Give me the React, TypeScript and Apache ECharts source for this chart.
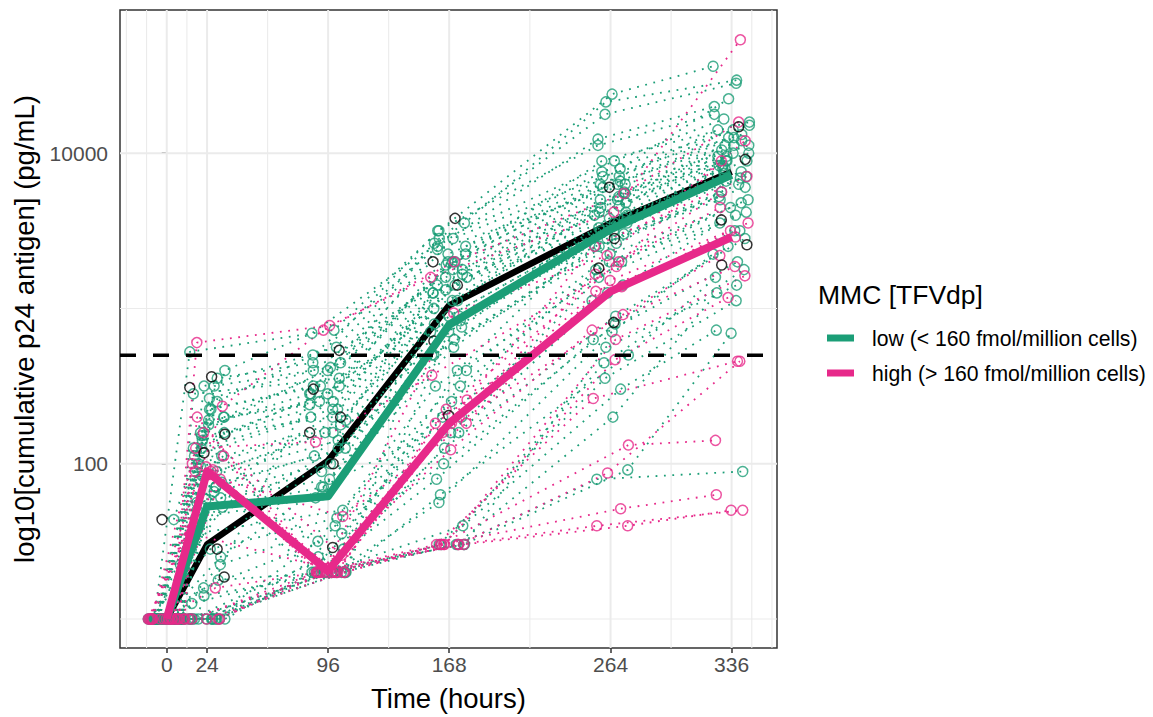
import React, { useEffect, useRef } from "react";
import * as echarts from "echarts";

// ---------- data (y values are log10 of cumulative p24 antigen, pg/mL) ----------
const TIMES = [0, 24, 96, 168, 264, 336];
const X_TICKS = [0, 24, 96, 168, 264, 336];
const X_MINOR = [-24, -12, 12, 60, 132, 216, 300, 348, 360];
const Y_TICKS = [2, 4]; // 100, 10000
const Y_MINOR = [1, 3];
const X_RANGE = [-27.8, 363];
const Y_RANGE = [0.813, 4.922];
const THRESHOLD = 500; // pg/mL dashed reference

const LOW_LABEL = "low (< 160 fmol/million cells)";
const HIGH_LABEL = "high (> 160 fmol/million cells)";

const LOW_SUMMARY = [1.0, 1.725, 1.79, 2.895, 3.51, 3.86];
const HIGH_SUMMARY = [1.0, 1.95, 1.31, 2.26, 3.11, 3.46];
const OVERALL_SUMMARY = [1.0, 1.48, 2.02, 3.02, 3.55, 3.88];

const LOW_SUBJECTS: number[][] = [
  [1.0, 2.72, 2.86, 3.5, 4.38, 4.56],
  [1.0, 2.6, 2.84, 3.55, 4.33, 4.47],
  [1.0, 2.5, 2.75, 3.45, 4.25, 4.45],
  [1.0, 2.4, 2.7, 3.4, 4.09, 4.3],
  [1.0, 2.3, 2.6, 3.35, 3.95, 4.2],
  [1.0, 2.45, 2.55, 3.3, 3.9, 4.35],
  [1.64, 2.35, 2.5, 3.45, 3.85, 4.12],
  [1.35, 2.2, 2.65, 3.38, 3.8, 4.05],
  [1.0, 2.25, 2.45, 3.3, 3.85, 4.15],
  [1.0, 2.15, 2.4, 3.25, 3.8, 4.1],
  [1.0, 2.1, 2.35, 3.2, 3.75, 4.05],
  [1.0, 2.05, 2.3, 3.15, 3.7, 4.0],
  [1.0, 2.0, 2.28, 3.1, 3.68, 3.98],
  [1.0, 1.95, 2.2, 3.05, 3.65, 3.95],
  [1.0, 1.9, 2.15, 3.0, 3.62, 3.92],
  [1.0, 1.88, 2.1, 2.95, 3.6, 3.9],
  [1.0, 1.85, 2.05, 2.92, 3.58, 3.88],
  [1.0, 1.82, 2.0, 2.9, 3.55, 3.87],
  [1.0, 1.78, 1.95, 2.88, 3.52, 3.85],
  [1.0, 1.75, 1.9, 2.85, 3.5, 3.84],
  [1.0, 1.72, 1.85, 2.8, 3.48, 3.8],
  [1.0, 1.7, 1.8, 2.75, 3.45, 3.78],
  [1.0, 1.65, 1.78, 2.7, 3.42, 3.75],
  [1.0, 2.3, 2.4, 3.2, 3.6, 3.95],
  [1.0, 1.77, 2.35, 3.28, 3.72, 4.02],
  [1.0, 2.35, 2.5, 2.95, 3.4, 3.7],
  [1.0, 1.55, 1.7, 2.6, 3.35, 3.7],
  [1.0, 1.45, 1.65, 2.5, 3.3, 3.65],
  [1.0, 1.35, 1.6, 2.4, 3.25, 3.6],
  [1.0, 1.2, 1.55, 2.3, 3.15, 3.55],
  [1.0, 1.0, 1.5, 2.2, 3.05, 3.5],
  [1.0, 1.0, 1.45, 2.1, 2.95, 3.45],
  [1.0, 1.0, 1.4, 2.0, 2.9, 3.4],
  [1.0, 1.1, 1.3, 1.9, 2.8, 3.3],
  [1.0, 1.0, 1.3, 1.8, 2.7, 3.2],
  [1.0, 1.25, 1.3, 2.2, 3.1, 3.5],
  [1.0, 1.0, 1.3, 1.48, 2.48, 2.86],
  [1.0, 1.0, 1.3, 1.48, 1.96, 2.84],
  [1.0, 1.0, 1.3, 1.48, 1.9, 1.95],
  [1.0, 1.0, 1.3, 1.48, 2.3, 3.1],
  [1.0, 1.0, 1.3, 1.6, 2.65, 3.25],
  [1.0, 1.0, 1.3, 1.75, 2.85, 3.35],
  [1.0, 1.0, 1.3, 1.48, 2.75, 3.15],
  [1.0, 1.15, 1.3, 1.48, 2.55, 3.05],
  [1.0, 2.55, 2.65, 3.5, 4.05, 4.25],
  [1.0, 2.2, 2.45, 3.4, 3.88, 4.18],
  [1.0, 2.1, 2.5, 3.35, 3.82, 4.1],
  [1.0, 2.42, 2.6, 3.25, 3.78, 4.08],
  [1.0, 1.98, 2.25, 3.15, 3.74, 4.0],
  [1.0, 2.28, 2.38, 3.05, 3.66, 3.98],
  [1.0, 1.92, 2.2, 3.22, 3.7, 4.05],
  [1.0, 2.18, 2.3, 3.12, 3.58, 3.9],
  [1.0, 1.0, 2.45, 3.3, 3.8, 4.15],
  [1.0, 1.0, 1.3, 3.1, 3.62, 3.95],
  [1.0, 1.0, 1.3, 2.6, 3.5, 3.82],
  [1.0, 1.6, 2.1, 2.7, 3.4, 3.72],
  [1.0, 2.05, 1.3, 2.85, 3.55, 3.92],
  [1.0, 1.85, 1.3, 2.5, 3.3, 3.68],
  [1.0, 2.5, 2.62, 3.42, 3.95, 4.22],
  [1.0, 1.4, 1.85, 2.3, 3.2, 3.62],
];

const HIGH_SUBJECTS: number[][] = [
  [1.0, 2.78, 2.89, 3.2, 3.62, 4.73],
  [1.0, 2.37, 2.86, 3.3, 3.74, 4.2],
  [1.0, 2.3, 1.3, 2.97, 3.34, 4.08],
  [1.0, 2.1, 2.14, 2.57, 3.27, 3.95],
  [1.0, 2.05, 1.3, 2.41, 3.4, 3.85],
  [1.0, 1.98, 1.3, 2.35, 3.3, 3.75],
  [1.0, 1.95, 1.3, 2.3, 3.22, 3.65],
  [1.0, 1.95, 1.66, 2.26, 3.18, 3.55],
  [1.0, 1.93, 1.3, 2.26, 3.14, 3.5],
  [1.0, 1.9, 1.3, 2.26, 3.11, 3.46],
  [1.0, 2.2, 1.41, 2.2, 2.96, 3.34],
  [1.0, 1.96, 1.3, 2.09, 2.86, 3.27],
  [1.0, 1.55, 1.3, 1.48, 2.8, 3.21],
  [1.0, 1.2, 1.3, 1.48, 2.67, 3.07],
  [1.0, 1.0, 1.3, 1.48, 2.42, 2.66],
  [1.0, 1.0, 1.3, 1.48, 2.12, 2.15],
  [1.0, 1.0, 1.3, 1.48, 1.94, 2.66],
  [1.0, 2.0, 1.3, 1.48, 1.71, 1.8],
  [1.0, 1.0, 1.3, 1.48, 1.6, 1.7],
  [1.0, 1.0, 1.3, 1.48, 1.6, 1.7],
];

// black open circles, grouped by time index
const OTHER_POINTS: number[][] = [
  [1.64],
  [2.56, 2.49, 2.19, 2.07, 1.45, 1.27],
  [2.73, 2.48, 2.3, 2.2, 2.0, 1.46],
  [3.58, 3.3, 3.15, 2.79, 2.31],
  [3.78, 3.45, 3.26, 2.91],
  [4.17, 3.96, 3.57, 3.41, 3.28],
];

// horizontal jitter (hours)
const JITTER = [
  -7.5, 4.2, 9.8, -2.1, 6.6, -10.3, 1.4, -5.2, 8.1, -0.7, 3.5, -8.8, 10.6, -3.9,
  5.7, -6.1, 2.3, -9.6, 7.4, -1.8, 0.9, -4.6, 9.1, -7.0, 4.9, -11.0, 6.0, -2.8,
  8.7, -5.9, 1.9, -9.1, 3.0, 10.2, -3.3, 5.2, -6.8, 7.9, -0.3, 2.7, -8.2,
];

const GREEN = "#1B9E77";
const PINK = "#E7298A";
const FONT = "'Liberation Sans', Arial, Helvetica, sans-serif";

function jit(s: number, t: number) {
  return JITTER[(s * 7 + t * 5) % JITTER.length];
}

function buildOption() {
  const series: any[] = [];

  const gridLine = (data: number[][], width: number) => ({
    type: "line",
    silent: true,
    z: 1,
    symbol: "none",
    data,
    lineStyle: { color: "#EBEBEB", width },
  });
  Y_MINOR.forEach((y) => series.push(gridLine([[X_RANGE[0], y], [X_RANGE[1], y]], 1.1)));
  X_MINOR.forEach((x) => series.push(gridLine([[x, Y_RANGE[0]], [x, Y_RANGE[1]]], 1.1)));
  Y_TICKS.forEach((y) => series.push(gridLine([[X_RANGE[0], y], [X_RANGE[1], y]], 2)));
  X_TICKS.forEach((x) => series.push(gridLine([[x, Y_RANGE[0]], [x, Y_RANGE[1]]], 2)));

  // overall summary (black, beneath the individual traces)
  series.push({
    type: "line",
    silent: true,
    z: 2,
    symbol: "none",
    data: TIMES.map((t, i) => [t, OVERALL_SUMMARY[i]]),
    lineStyle: { color: "#000", width: 6.5, join: "round" },
  });

  let s = 0;
  const greenPts: number[][] = [];
  const pinkPts: number[][] = [];
  const addSubjects = (subs: number[][], color: string, pts: number[][]) => {
    subs.forEach((vals) => {
      const d = vals.map((v, t) => [TIMES[t] + jit(s, t), v]);
      s++;
      pts.push(...d);
      series.push({
        type: "line",
        silent: true,
        z: 3,
        symbol: "none",
        data: d,
        lineStyle: { color, width: 1.8, type: [1.8, 6.6] },
      });
    });
  };
  addSubjects(LOW_SUBJECTS, GREEN, greenPts);
  addSubjects(HIGH_SUBJECTS, PINK, pinkPts);

  const blackPts: number[][] = [];
  OTHER_POINTS.forEach((vals, t) => {
    vals.forEach((v) => {
      blackPts.push([TIMES[t] + jit(s, t), v]);
      s++;
    });
  });

  const scatter = (data: number[][], color: string) => ({
    type: "scatter",
    silent: true,
    z: 4,
    symbol: "circle",
    symbolSize: 10,
    data,
    itemStyle: { color: "rgba(0,0,0,0)", borderColor: color, borderWidth: 1.5 },
  });
  series.push(scatter(greenPts, GREEN));
  series.push(scatter(pinkPts, PINK));
  series.push(scatter(blackPts, "#000"));

  series.push({
    type: "line",
    name: LOW_LABEL,
    silent: true,
    z: 5,
    symbol: "none",
    color: GREEN,
    itemStyle: { color: GREEN },
    data: TIMES.map((t, i) => [t, LOW_SUMMARY[i]]),
    lineStyle: { color: GREEN, width: 8, join: "round" },
  });
  series.push({
    type: "line",
    name: HIGH_LABEL,
    silent: true,
    z: 5,
    symbol: "none",
    color: PINK,
    itemStyle: { color: PINK },
    data: TIMES.map((t, i) => [t, HIGH_SUMMARY[i]]),
    lineStyle: { color: PINK, width: 8, join: "round" },
  });

  const th = Math.log10(THRESHOLD);
  series.push({
    type: "line",
    silent: true,
    z: 6,
    symbol: "none",
    data: [[X_RANGE[0], th], [X_RANGE[1], th]],
    lineStyle: { color: "#000", width: 3.5, type: [16, 17] },
  });

  return {
    animation: false,
    backgroundColor: "#fff",
    textStyle: { fontFamily: FONT },
    title: {
      text: "MMC [TFVdp]",
      left: 813,
      top: 276,
      textStyle: { fontSize: 26.5, fontWeight: "normal", color: "#000", fontFamily: FONT },
    },
    legend: {
      data: [LOW_LABEL, HIGH_LABEL],
      orient: "vertical",
      left: 822,
      top: 320,
      icon: "rect",
      itemWidth: 27,
      itemHeight: 7,
      itemGap: 9,
      selectedMode: false,
      textStyle: {
        fontSize: 21.2,
        color: "#000",
        fontFamily: FONT,
        lineHeight: 26,
        padding: [0, 0, 0, 13],
      },
    },
    grid: {
      left: 120,
      top: 10,
      width: 657,
      height: 643,
      show: true,
      borderColor: "#333333",
      borderWidth: 1.5,
      backgroundColor: "#fff",
    },
    xAxis: {
      type: "value",
      min: X_RANGE[0],
      max: X_RANGE[1],
      axisLine: { show: false },
      axisTick: { show: true, customValues: X_TICKS, length: 5, lineStyle: { color: "#333", width: 1.5 } },
      axisLabel: { customValues: X_TICKS, margin: 6, fontSize: 21, color: "#4D4D4D", fontFamily: FONT },
      splitLine: { show: false },
      name: "Time (hours)",
      nameLocation: "middle",
      nameGap: 36,
      nameTextStyle: { fontSize: 27.5, color: "#000", fontFamily: FONT },
    },
    yAxis: {
      type: "value",
      min: Y_RANGE[0],
      max: Y_RANGE[1],
      axisLine: { show: false },
      axisTick: { show: true, customValues: Y_TICKS, length: 5, lineStyle: { color: "#333", width: 1.5 } },
      axisLabel: {
        customValues: Y_TICKS,
        margin: 12,
        fontSize: 21,
        color: "#4D4D4D",
        fontFamily: FONT,
        formatter: (v: number) => String(Math.round(Math.pow(10, v))),
      },
      splitLine: { show: false },
      name: "log10[cumulative p24 antigen] (pg/mL)",
      nameLocation: "middle",
      nameGap: 75,
      nameRotate: 90,
      nameTextStyle: { fontSize: 27.5, color: "#000", fontFamily: FONT },
    },
    series,
  };
}

export default function App() {
  const ref = useRef<HTMLDivElement>(null);
  useEffect(() => {
    document.body.style.margin = "0";
    const chart = echarts.init(ref.current!, undefined, { renderer: "svg" });
    chart.setOption(buildOption() as any);
    return () => chart.dispose();
  }, []);
  return <div ref={ref} style={{ width: 1153, height: 717 }} />;
}
